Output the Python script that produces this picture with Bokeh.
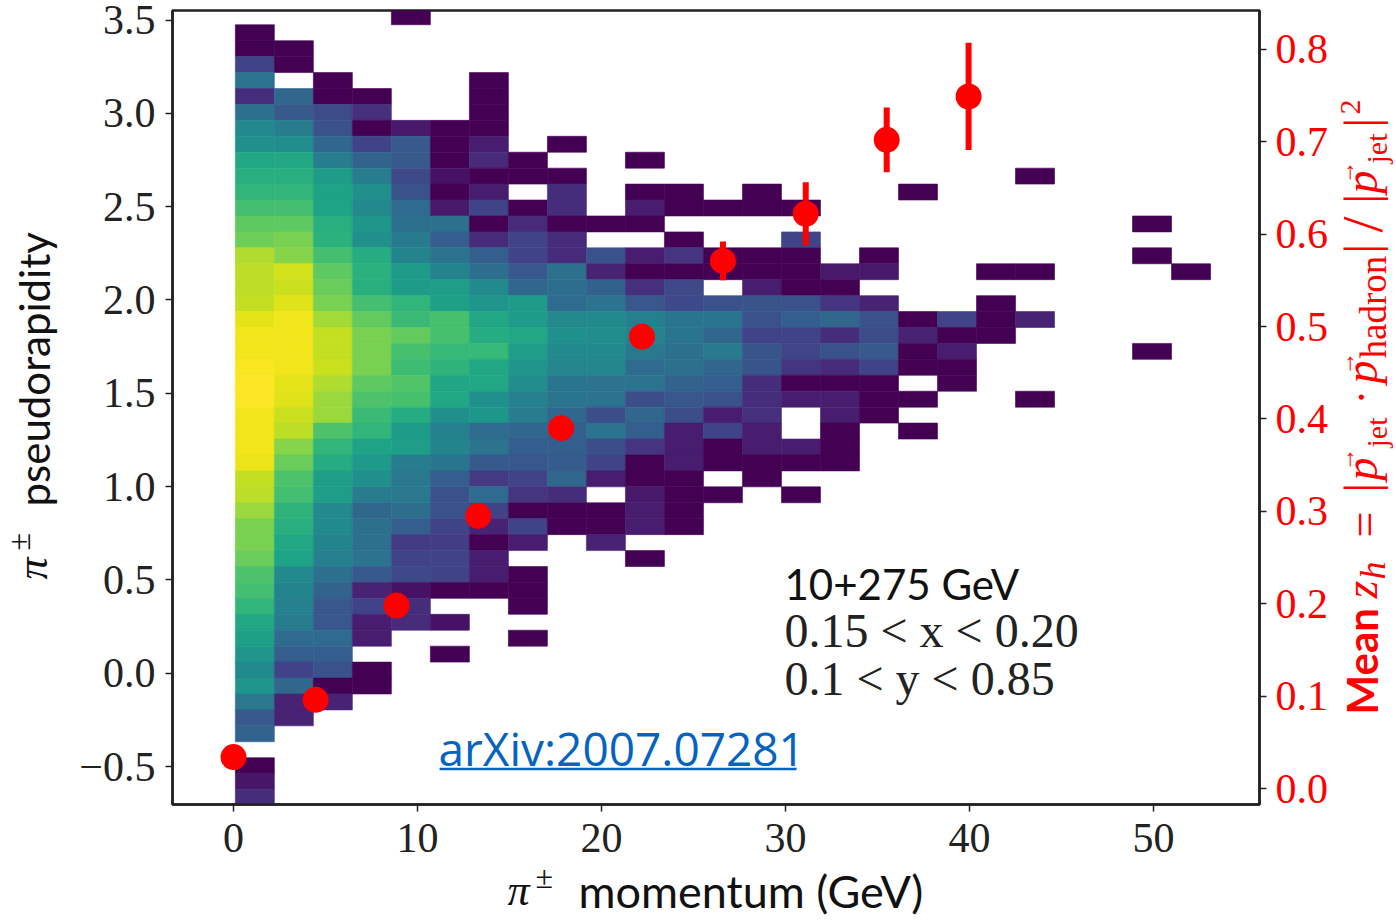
from bokeh.plotting import figure
from bokeh.layouts import column, row
from bokeh.models import Label, LinearAxis, Range1d, FixedTicker, LinearColorMapper, ColumnDataSource
from bokeh.palettes import Viridis256
from bokeh.transform import transform
from bokeh.embed import file_html
from bokeh.resources import INLINE

N = None
# colour level (0-1 on the viridis map) per histogram row, top row first, columns left to right
r00 = [N,N,N,N,0]
r01 = [0]
r02 = [0,0]
r03 = [.2,0]
r04 = [.38,N,0,N,N,N,0]
r05 = [.13,.33,0,0,N,N,0]
r06 = [.37,.28,.23,.14,N,N,0]
r07 = [.47,.42,.25,0,.07,0,0]
r08 = [.5,.49,.33,.2,.28,0,.08,N,0]
r09 = [.6,.6,.42,.32,.28,0,.12,0,N,N,0]
r10 = [.63,.63,.55,.42,.22,.05,0,0,0,N,N,N,N,N,N,N,N,N,N,N,0]
r11 = [.66,.66,.58,.5,.25,0,.08,N,.13,N,0,0,N,0,N,N,N,0]
r12 = [.7,.7,.58,.47,.35,.07,.2,0,.13,N,.08,0,0,0,0]
r13 = [.75,.75,.63,.53,.37,.37,0,.12,0,0,0,N,N,N,N,N,N,N,N,N,N,N,N,0]
r14 = [.78,.8,.64,.5,.41,.3,.12,.2,.12,N,N,0,N,N,.2]
r15 = [.88,.82,.7,.62,.45,.38,.3,.2,.12,.25,.08,.15,0,0,0,N,0,N,N,N,N,N,N,0]
r16 = [.9,.93,.75,.64,.55,.45,.36,.27,.37,.1,0,0,0,0,0,.07,.07,N,N,0,0,N,N,N,0]
r17 = [.9,.92,.77,.63,.55,.56,.48,.33,.36,.31,.14,.22,N,.08,0,0]
r18 = [.91,.95,.8,.7,.66,.57,.52,.55,.35,.38,.27,.22,.25,.26,.25,.15,.1,N,N,0]
r19 = [.96,.98,.86,.76,.68,.71,.6,.55,.47,.48,.43,.39,.39,.25,.3,.33,.25,0,.2,0,.1]
r20 = [.98,.98,.91,.8,.76,.71,.62,.6,.5,.49,.45,.39,.33,.2,.2,.13,.23,.1,0,0]
r21 = [.98,.98,.91,.8,.71,.67,.67,.56,.48,.48,.4,.37,.41,.26,.21,.25,.28,0,.08,N,N,N,N,0]
r22 = [.99,.98,.92,.8,.69,.65,.6,.52,.46,.46,.35,.37,.33,.26,.15,.12,.2,0,0]
r23 = [1,.96,.88,.75,.73,.59,.6,.49,.39,.38,.38,.32,.3,.13,0,0,0,N,0]
r24 = [1,.95,.85,.72,.71,.6,.5,.44,.39,.38,.24,.27,.25,.13,.08,.08,0,0,N,N,0]
r25 = [.98,.92,.85,.68,.62,.5,.53,.42,.33,.24,.33,.24,.08,.14,N,.08,0]
r26 = [.98,.9,.72,.66,.55,.44,.35,.33,.3,.38,.3,.08,.2,.08,N,0,N,0]
r27 = [.98,.82,.66,.58,.56,.45,.38,.3,.3,.24,.15,.08,0,.08,.08,0]
r28 = [.97,.77,.62,.54,.42,.39,.28,.27,.29,.2,0,.08,0,0,0,0]
r29 = [.91,.72,.56,.5,.4,.3,.17,.2,.33,.08,0,0,N,0]
r30 = [.9,.7,.56,.42,.4,.25,.35,.15,.13,N,.07,0,0,N,0]
r31 = [.85,.65,.47,.33,.36,.25,.2,0,0,0,.08,0]
r32 = [.8,.63,.48,.37,.3,.2,.1,.2,0,0,.08,0]
r33 = [.8,.6,.45,.37,.17,.18,0,.08,N,.1]
r34 = [.77,.58,.43,.38,.2,.2,.08,N,N,N,0]
r35 = [.72,.47,.37,.28,.22,.2,.08,0]
r36 = [.7,.45,.32,.1,.05,0,0,0]
r37 = [.66,.44,.27,.2,.13,N,N,0]
r38 = [.6,.42,.27,.08,.12,.05]
r39 = [.57,.35,.35,.08,N,N,N,0]
r40 = [.52,.3,.3,N,N,0]
r41 = [.48,.2,.25,0]
r42 = [.52,.33,0,0]
r43 = [.4,.1,.1]
r44 = [.28,.1]
r45 = [.32]
r46 = []
r47 = [0]
r48 = [.06]
r49 = [.13]
rows = [r00,r01,r02,r03,r04,r05,r06,r07,r08,r09,r10,r11,r12,r13,r14,r15,r16,r17,r18,r19,
        r20,r21,r22,r23,r24,r25,r26,r27,r28,r29,r30,r31,r32,r33,r34,r35,r36,r37,r38,r39,
        r40,r41,r42,r43,r44,r45,r46,r47,r48,r49]

# histogram bins
x_first_edge, x_bin = 0.1, 2.12
y_first_edge, y_bin = 3.560, 0.08538

# red points (right axis)
mean_x = [0, 4.46, 8.86, 13.3, 17.8, 22.2, 26.6, 31.1, 35.5, 39.95]
mean_z = [.034, .096, .198, .295, .39, .489, .571, .622, .702, .749]
mean_err = [0, 0, 0, 0, 0, 0, .021, .034, .035, .058]

x_ticks = [0, 10, 20, 30, 40, 50]
y_ticks = [-0.5, 0.0, 0.5, 1.0, 1.5, 2.0, 2.5, 3.0, 3.5]
y_tick_text = ["\u22120.5", "0.0", "0.5", "1.0", "1.5", "2.0", "2.5", "3.0", "3.5"]
z_ticks = [0.0, 0.1, 0.2, 0.3, 0.4, 0.5, 0.6, 0.7, 0.8]

SERIF, SANS = "Liberation Serif", "Lato"
RED = "#ff0000"
INK = "#222222"
LEFT_W, RIGHT_X, MAIN_H = 62, 1331, 860


def strip(width, height):
    f = figure(width=width, height=height, output_backend="svg", toolbar_location=None,
               x_range=Range1d(0, 1), y_range=Range1d(0, 1), x_axis_type=None, y_axis_type=None,
               min_border=0, outline_line_color=None)
    f.grid.visible = False
    return f


p = figure(width=RIGHT_X - LEFT_W, height=MAIN_H, output_backend="svg", toolbar_location=None,
           x_range=Range1d(-3.315, 55.76), y_range=Range1d(-0.7036, 3.551),
           min_border_left=172 - LEFT_W, min_border_right=RIGHT_X - 1259,
           min_border_top=10, min_border_bottom=MAIN_H - 804)
p.grid.visible = False
p.outline_line_color = INK
p.outline_line_width = 2.5

left_fig = strip(LEFT_W, MAIN_H)
right_fig = strip(1396 - RIGHT_X, MAIN_H)
bottom_fig = strip(1396, 921 - MAIN_H)

left, right, top, bottom, level = [], [], [], [], []
for i, r in enumerate(rows):
    for j, v in enumerate(r):
        if v is None:
            continue
        left.append(x_first_edge + j * x_bin)
        right.append(x_first_edge + (j + 1) * x_bin)
        top.append(y_first_edge - i * y_bin)
        bottom.append(y_first_edge - (i + 1) * y_bin)
        level.append(v)
src = ColumnDataSource(dict(left=left, right=right, top=top, bottom=bottom, level=level))
mapper = LinearColorMapper(palette=Viridis256, low=0, high=1)
p.quad(left="left", right="right", top="top", bottom="bottom", source=src,
       fill_color=transform("level", mapper), line_color=transform("level", mapper), line_width=0.6)


def style_axis(ax, label_color):
    ax.major_label_text_font = SERIF
    ax.major_label_text_font_size = "42px"
    ax.major_label_text_color = label_color
    ax.major_tick_line_color = INK
    ax.major_tick_line_width = 1.5
    ax.major_tick_in = 0
    ax.major_tick_out = 7
    ax.minor_tick_line_color = None
    ax.axis_line_color = INK
    ax.axis_line_width = 2.5


style_axis(p.xaxis[0], INK)
style_axis(p.yaxis[0], INK)
p.xaxis.ticker = FixedTicker(ticks=x_ticks)
p.xaxis.major_label_standoff = 12
p.yaxis.ticker = FixedTicker(ticks=y_ticks)
p.yaxis.major_label_overrides = {t: s for t, s in zip(y_ticks, y_tick_text)}
p.yaxis.major_label_standoff = 10
p.yaxis.major_label_orientation = "horizontal"

p.extra_y_ranges = {"z": Range1d(-0.0173, 0.842)}
zaxis = LinearAxis(y_range_name="z", ticker=FixedTicker(ticks=z_ticks),
                   major_label_overrides={t: f"{t:.1f}" for t in z_ticks})
style_axis(zaxis, RED)
zaxis.major_label_standoff = 9
p.add_layout(zaxis, "right")

# red points
p.segment(x0=mean_x, x1=mean_x,
          y0=[z - e for z, e in zip(mean_z, mean_err)],
          y1=[z + e for z, e in zip(mean_z, mean_err)],
          y_range_name="z", line_color=RED, line_width=6)
p.scatter(x=mean_x, y=mean_z, y_range_name="z", size=26, fill_color=RED, line_color=RED, line_width=0)

# link underline
p.segment(x0=[11.2], x1=[30.6], y0=[-0.513], y1=[-0.513], line_color="#0563c1", line_width=2.5)

# (figure, page x of its frame's left edge, page y of its frame's bottom edge)
# the row aligns the side strips' frames with the main frame's bottom
MAIN = (p, 172, 804)
LEFT = (left_fig, 0, 804)
RIGHT = (right_fig, RIGHT_X, 804)
BOTTOM = (bottom_fig, 0, 921)
DROP = 0.4  # Label's alphabetic anchor sits this many ems below the nominal point


def put(where, text, px, py, font=SERIF, size=44, color="#111111", vertical=False, style="normal"):
    f, ox, oy = where
    if vertical:
        px -= DROP * size
    else:
        py -= DROP * size
    f.add_layout(Label(x=px - ox, y=oy - py, x_units="screen", y_units="screen", text=text,
                       text_font=font, text_font_size=f"{size}px", text_color=color,
                       text_font_style=style, text_baseline="alphabetic", text_align="left",
                       angle=1.5708 if vertical else 0))


# x label
put(BOTTOM, "\u03c0", 507, 908, size=44, style="italic")
put(BOTTOM, "\u00b1", 535, 889, size=32)
put(BOTTOM, "momentum (GeV)", 578, 908, font=SANS, size=45)
# y label
put(LEFT, "\u03c0", 50, 579, size=44, style="italic", vertical=True)
put(LEFT, "\u00b1", 31, 550, size=32, vertical=True)
put(LEFT, "pseudorapidity", 50, 506, font=SANS, size=42, vertical=True)

# annotation
put(MAIN, "10+275 GeV", 784, 600, font=SANS, size=42)
put(MAIN, "0.15 < x < 0.20", 784, 649, size=48, color=INK)
put(MAIN, "0.1 < y < 0.85", 784, 697, size=48, color=INK)
put(MAIN, "arXiv:2007.07281", 438, 766, font="Open Sans", size=46, color="#0563c1")

# right label
BX = 1379
put(RIGHT, "Mean", 1378, 714, font=SANS, size=42, color=RED, vertical=True, style="bold")
put(RIGHT, "z", BX, 598, size=46, color=RED, vertical=True, style="italic")
put(RIGHT, "h", 1387, 579, size=36, color=RED, vertical=True, style="italic")
put(RIGHT, "=", BX + 3, 537, size=46, color=RED, vertical=True)
put(RIGHT, "|", BX + 1, 492, size=48, color=RED, vertical=True)
put(RIGHT, "p", BX, 480, size=46, color=RED, vertical=True, style="italic")
put(RIGHT, "\u2192", 1355, 471, size=24, color=RED, vertical=True)
put(RIGHT, "jet", 1388, 447, size=30, color=RED, vertical=True)
put(RIGHT, "\u00b7", BX, 404, size=44, color=RED, vertical=True)
put(RIGHT, "p", BX, 383, size=46, color=RED, vertical=True, style="italic")
put(RIGHT, "\u2192", 1355, 375, size=24, color=RED, vertical=True)
put(RIGHT, "hadron", 1388, 358, size=37, color=RED, vertical=True)
put(RIGHT, "|", BX + 1, 253, size=48, color=RED, vertical=True)
put(RIGHT, "/", 1385, 232, size=58, color=RED, vertical=True)
put(RIGHT, "|", BX + 1, 203, size=48, color=RED, vertical=True)
put(RIGHT, "p", BX, 193, size=46, color=RED, vertical=True, style="italic")
put(RIGHT, "\u2192", 1355, 184, size=24, color=RED, vertical=True)
put(RIGHT, "jet", 1388, 163, size=30, color=RED, vertical=True)
put(RIGHT, "|", BX + 1, 127, size=48, color=RED, vertical=True)
put(RIGHT, "2", 1362, 114, size=30, color=RED, vertical=True)

page = column(row(left_fig, p, right_fig), bottom_fig)
open("out.html", "w").write(file_html(page, INLINE))
